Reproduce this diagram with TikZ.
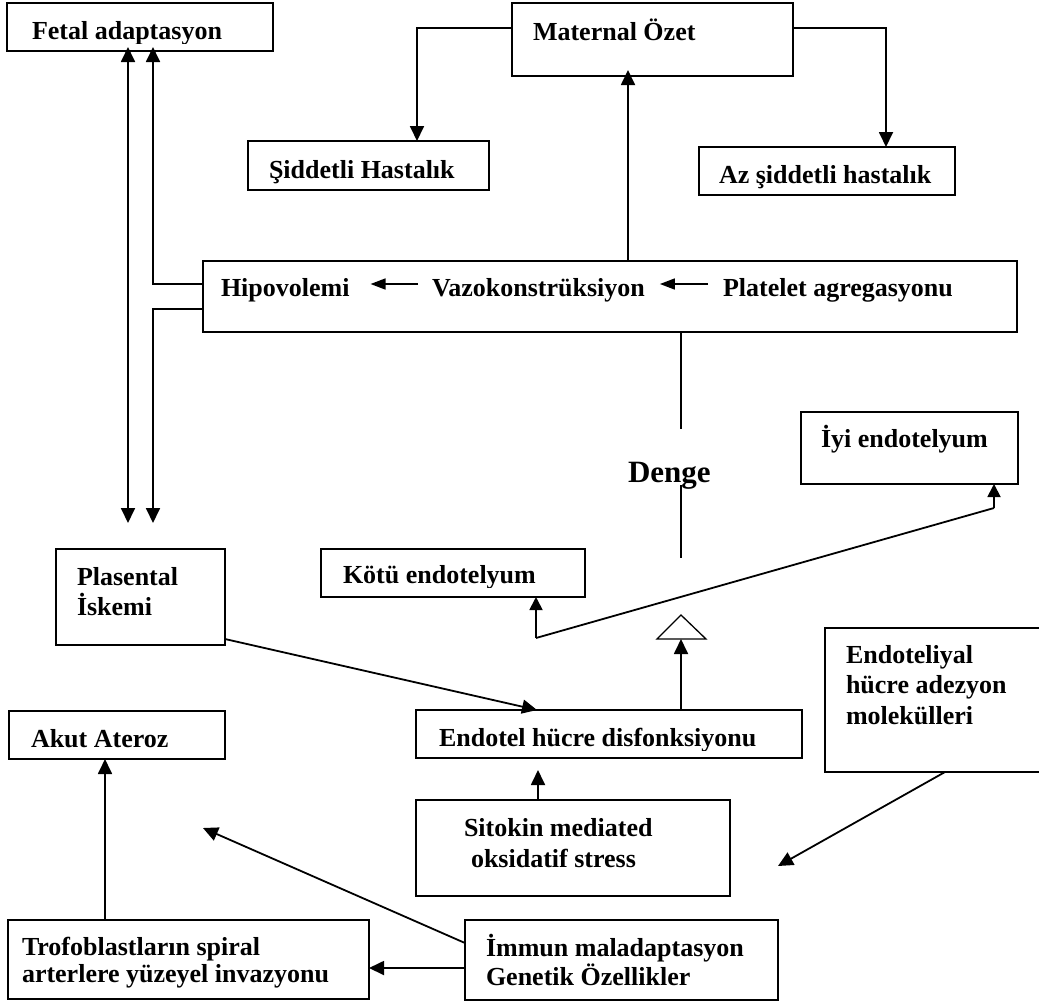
\documentclass[tikz,border=0pt]{standalone}
\usepackage{fontspec}
\setmainfont{Liberation Serif}
\usetikzlibrary{arrows.meta,calc}

% framed box given by its pixel corners (x1,y1) (x2,y2)
\newcommand\boxat[5]{\node[box, minimum width={#4-#2}, minimum height={#5-#3}] (#1) at ({(#2+#4)/2},{(#3+#5)/2}) {};}
% several lines of text with a chosen line distance
\newcommand\ml[2]{\parbox[t]{16cm}{\raggedright\fontsize{26}{#1}\selectfont\bfseries #2}}

\begin{document}
\begin{tikzpicture}[x=1pt,y=-1pt,
  box/.style={draw, line width=1.8pt, inner sep=0pt, outer sep=0pt},
  txt/.style={inner sep=0pt, outer sep=0pt, anchor=base west, font=\fontsize{26}{30}\selectfont\bfseries},
  link/.style={line width=1.8pt},
  arr/.style={link, -{Triangle[length=15pt,width=14pt]}},
  arrs/.style={link, -{Triangle[length=13pt,width=13pt]}},
  dblarr/.style={link, {Triangle[length=15pt,width=14pt]}-{Triangle[length=15pt,width=14pt]}},
  rowarr/.style={line width=1.6pt, -{Triangle[length=15pt,width=11pt]}},
]
\fill[white] (0,0) rectangle (1039,1005);
\useasboundingbox (0,0) rectangle (1039,1005);

% ---------- boxes ----------
\boxat{fetal}{7}{3}{273}{51}
\boxat{maternal}{512}{3}{793}{76}
\boxat{siddetli}{248}{141}{489}{190}
\boxat{az}{699}{147}{955}{195}
\boxat{main}{203}{261}{1017}{332}
\boxat{iyi}{801}{412}{1018}{484}
\boxat{kotu}{321}{549}{585}{597}
\boxat{plas}{56}{549}{225}{645}
\boxat{akut}{9}{711}{225}{759}
\boxat{endo}{416}{710}{802}{758}
\boxat{adh}{825}{628}{1050}{772}
\boxat{sito}{416}{800}{730}{896}
\boxat{immun}{465}{920}{778}{1000}
\boxat{trofo}{8}{920}{369}{999}

% ---------- texts ----------
\begin{scope}
  \clip (0,0) rectangle (1039,43);
  \node[txt] (tFetal) at (32,39) {Fetal adaptasyon};
\end{scope}
\node[txt] (tMat) at (533,40) {Maternal Özet};
\node[txt] (tSid) at (269,178) {Şiddetli Hastalık};
\node[txt] (tAz) at (719,183) {Az şiddetli hastalık};
\node[txt] (hipo) at (221,296) {Hipovolemi};
\node[txt] (vazo) at (432,296) {Vazokonstrüksiyon};
\node[txt] (plt) at (723,296) {Platelet agregasyonu};
\node[txt, font=\fontsize{31}{36}\selectfont\bfseries] (denge) at (628,482) {Denge};
\node[txt] (tIyi) at (821,447) {İyi endotelyum};
\begin{scope}
  \clip (0,500) rectangle (1039,587);
  \node[txt] (tKotu) at (343,583) {Kötü endotelyum};
\end{scope}
\node[txt] (tPlas) at (77,585) {\ml{30}{Plasental\\İskemi}};
\node[txt] (tAkut) at (31,747) {Akut Ateroz};
\begin{scope}
  \clip (0,700) rectangle (1039,750);
  \node[txt] (tEndo) at (439,746) {Endotel hücre disfonksiyonu};
\end{scope}
\node[txt] (tAdh) at (846,663) {\ml{30.5}{Endoteliyal\\hücre adezyon\\molekülleri}};
\node[txt] (tSito) at (464,836) {\ml{31}{Sitokin mediated\\\hspace*{7pt}oksidatif stress}};
\node[txt] (tImm) at (486,956) {\ml{29}{İmmun maladaptasyon\\Genetik Özellikler}};
\begin{scope}
  \clip (0,900) rectangle (1039,987);
  \node[txt] (tTrof) at (22,955) {\ml{27}{Trofoblastların spiral\\arterlere yüzeyel invazyonu}};
\end{scope}

% ---------- maternal outcome ----------
\draw[arr] ([yshift=11.5pt]maternal.west) -| ([xshift=48.5pt]siddetli.north);
\draw[arr] ([yshift=11.5pt]maternal.east) -| ([xshift=59pt]az.north);
\draw[arr, shorten >=-6pt] ([xshift=18pt]main.north) -- ([xshift=18pt]main.north |- maternal.south);

% ---------- chain inside the main box ----------
\draw[rowarr] ([shift={(-14pt,12pt)}]vazo.base west) -- ([shift={(21pt,12pt)}]hipo.base east);
\draw[rowarr] ([shift={(-15pt,12pt)}]plt.base west) -- ([shift={(15pt,12pt)}]vazo.base east);

% ---------- fetal side ----------
\draw[arr, shorten >=-4pt] ([yshift=12.5pt]main.west) -| ([xshift=13pt]fetal.south);
\draw[arr] ([yshift=-12.5pt]main.west) -| ([xshift=12.5pt,yshift=26pt]plas.north);
\draw[dblarr, shorten <=-4pt] ([xshift=-12pt]fetal.south) -- ([xshift=-12.5pt,yshift=26pt]plas.north);

% ---------- balance ----------
\coordinate (dA) at (681,429);
\coordinate (dB) at (681,485);
\coordinate (dC) at (681,558);
\draw[link] ([xshift=71pt]main.south) -- (dA);
\draw[link] (dB) -- (dC);
\coordinate (beamL) at (536,638);
\coordinate (beamR) at (994,508);
\draw[link] (beamL) -- (beamR);
\draw[arrs] (beamL) -- (beamL |- kotu.south);
\draw[arrs] (beamR) -- (beamR |- iyi.south);
\coordinate (fulcrum) at (681,639);
\draw[line width=1.3pt, line join=miter] (657,639) -- (681,615) -- (706,639) -- cycle;
\draw[arr] ([xshift=72pt]endo.north) -- (fulcrum);

% ---------- causes ----------
\draw[arr] ([yshift=6pt]plas.south east) -- ([xshift=-72pt]endo.north);
\coordinate (sitoTip) at (538,770);
\draw[arr] ([xshift=-35pt]sito.north) -- (sitoTip);
\coordinate (adhTip) at (778,866);
\draw[arr] ([xshift=7.5pt]adh.south) -- (adhTip);
\coordinate (immTip) at (203,828);
\draw[arr] ([yshift=17pt]immun.west) -- (immTip);
\draw[arr] ([yshift=-8pt]immun.west) -- ([yshift=-8.5pt]trofo.east);
\draw[arr] ([xshift=-83.5pt]trofo.north) -- ([xshift=-12pt]akut.south);
\end{tikzpicture}
\end{document}
